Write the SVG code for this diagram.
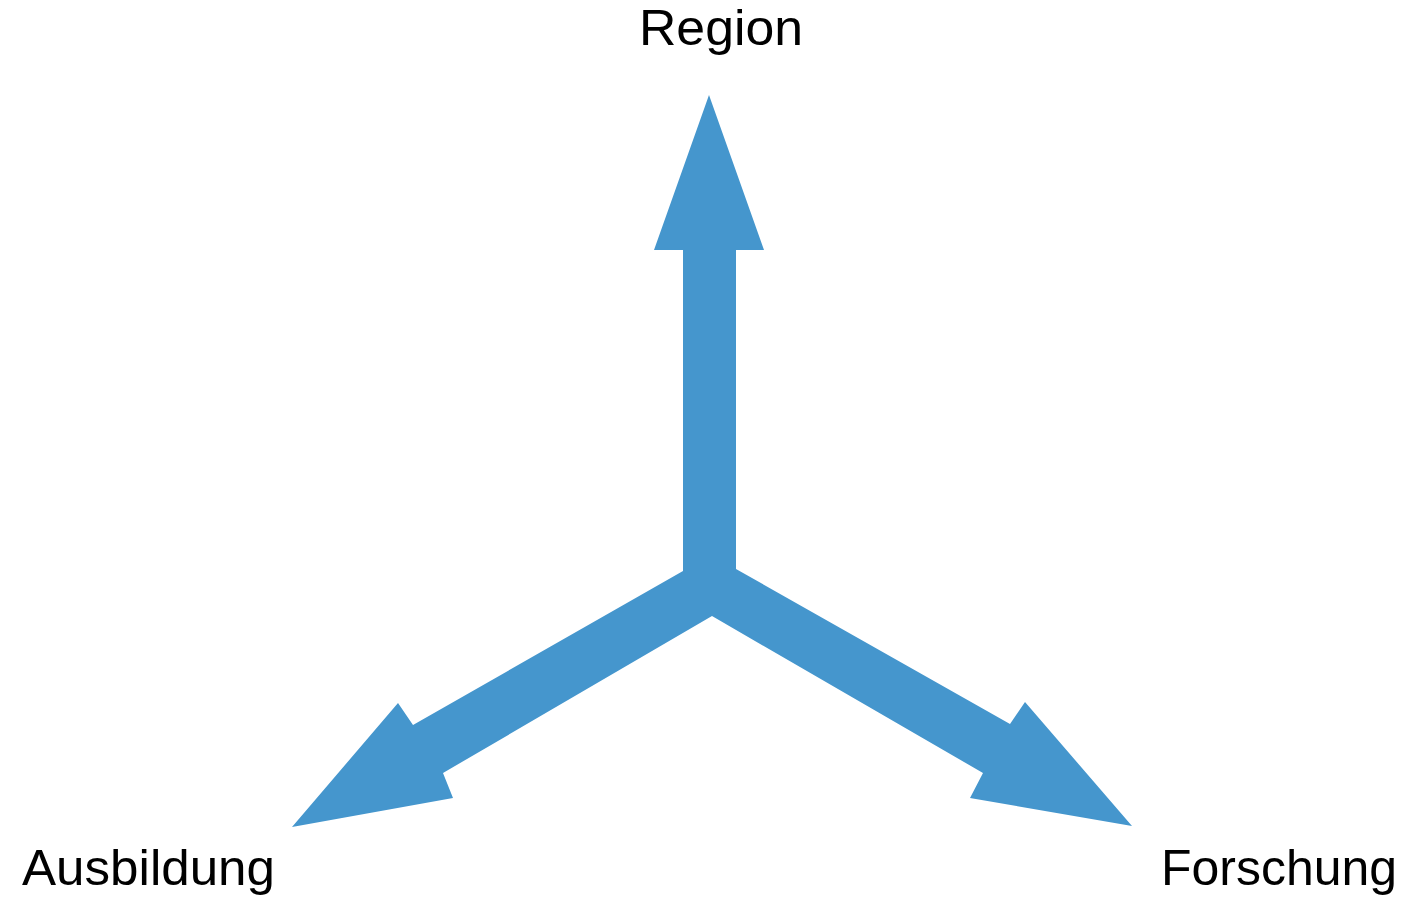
<svg xmlns="http://www.w3.org/2000/svg" width="1412" height="900" viewBox="0 0 1412 900">
  <style>
    .label { font-family: "Liberation Sans", Arial, sans-serif; font-size: 50px; fill: #000; }
    .arrow { fill: #4596cd; }
  </style>
  <rect width="1412" height="900" fill="#fff"/>
  <g id="connectors">
    <!-- three-way arrow: up, down-left, down-right from a common hub -->
    <polygon class="arrow" points="709,95 764,250 736,250 736,569 1010,724 1025,702 1132,826 970,798 983,773 712,616 443,773 453,798 292,827 398,703 413,725 683,571 683,250 654,250"/>
  </g>
  <g id="node-region">
    <text class="label" x="639" y="45" textLength="164" lengthAdjust="spacingAndGlyphs">Region</text>
  </g>
  <g id="node-ausbildung">
    <text class="label" x="22" y="885" textLength="253" lengthAdjust="spacingAndGlyphs">Ausbildung</text>
  </g>
  <g id="node-forschung">
    <text class="label" x="1161" y="885" textLength="236" lengthAdjust="spacingAndGlyphs">Forschung</text>
  </g>
</svg>
